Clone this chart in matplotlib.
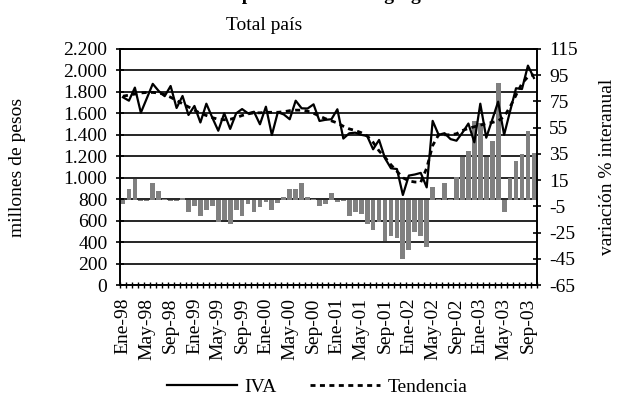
import numpy as np
import matplotlib
matplotlib.use("Agg")
import matplotlib.pyplot as plt
from matplotlib.lines import Line2D

plt.rcParams['font.family'] = ['Liberation Serif', 'DejaVu Serif']
plt.rcParams['axes.unicode_minus'] = False

# meses Ene-98 .. Oct-03
meses = ['Ene', 'Feb', 'Mar', 'Abr', 'May', 'Jun',
         'Jul', 'Ago', 'Sep', 'Oct', 'Nov', 'Dic']
anios = ['98', '99', '00', '01', '02', '03']

# recaudación IVA, millones de pesos
iva = [1750, 1718, 1840, 1606, 1740, 1875, 1808, 1760, 1855, 1650, 1762, 1585,
       1669, 1515, 1690, 1560, 1438, 1600, 1455, 1600, 1640, 1600, 1615, 1498,
       1662, 1398, 1610, 1590, 1545, 1718, 1647, 1645, 1684, 1529, 1540, 1545,
       1638, 1365, 1414, 1420, 1400, 1389, 1265, 1352, 1181, 1088, 1081, 839,
       1020, 1030, 1045, 910, 1530, 1400, 1415, 1360, 1345, 1420, 1505, 1330,
       1690, 1373, 1540, 1709, 1400, 1620, 1834, 1827, 2045, 1930]

tendencia = [1760, 1770, 1780, 1790, 1795, 1795, 1790, 1775, 1750, 1720, 1690, 1660,
             1630, 1600, 1580, 1560, 1545, 1540, 1545, 1560, 1580, 1595, 1605, 1605,
             1610, 1610, 1610, 1615, 1625, 1630, 1630, 1620, 1600, 1575, 1550, 1530,
             1510, 1480, 1455, 1440, 1420, 1390, 1330, 1250, 1190, 1120, 1060, 1000,
             970, 960, 958, 1090, 1300, 1400, 1400, 1400, 1410, 1440, 1460, 1475,
             1490, 1505, 1515, 1530, 1570, 1660, 1770, 1880, 1940, 1960]

# variación % interanual
variacion = [-3, 8, 16, -1, -1, 12.5, 7, 0.5, -1, -1, 1, -9,
             -5, -12.4, -7.8, -5, -16.7, -15.4, -18.5, -7.8, -12.4, -3, -9, -5.7,
             -1.5, -7.8, -2.7, 2, 8, 8, 12.6, 2, 0.5, -5, -3, 5,
             -2, -1, -12.4, -9, -10.6, -18.5, -23, -16.7, -31.2, -27.6, -28.9, -45.4,
             -38.3, -24.4, -27.6, -36.2, 10, 0.5, 12.5, 0.5, 17.6, 32.9, 37.4, 60,
             58.3, 33, 45, 89.3, -9.1, 16.4, 29.8, 34.9, 52.7, 35.4]

n = len(iva)
x = np.arange(n)
etiquetas = [meses[i % 12] + '-' + anios[i // 12] for i in range(n)]

fig = plt.figure(figsize=(6.25, 3.96), dpi=100)
ax = fig.add_axes([0.192, 0.2803, 0.667, 0.596])
ax2 = ax.twinx()
ax3 = ax.twinx()

# barras: variación (eje derecho)
ax2.bar(x, variacion, width=0.8, color='#808080', zorder=2)
ax2.set_ylim(-65, 115)
ax2.set_yticks(np.arange(-65, 116, 20))
ax2.tick_params(axis='y', direction='inout', length=6, width=1.2, pad=6, labelsize=14)

# eje izquierdo con la grilla
ax.set_xlim(-0.5, n - 0.5)
ax.set_ylim(0, 2200)
ax.set_yticks(np.arange(0, 2201, 200))
ax.set_yticklabels([f'{v:,}'.replace(',', '.') for v in range(0, 2201, 200)])
ax.yaxis.grid(True, color='black', lw=1.2)
ax.tick_params(axis='y', direction='inout', length=6, width=1.2, pad=6, labelsize=14)

ax.set_xticks(x[::4])
ax.set_xticklabels(etiquetas[::4], rotation=90)
ax.set_xticks(np.arange(-0.5, n, 1), minor=True)
ax.tick_params(axis='x', which='major', length=0, pad=9, labelsize=14)
ax.tick_params(axis='x', which='minor', direction='inout', length=5, width=1)

# líneas sobre las barras
ax3.plot(x, iva, color='black', lw=1.6, zorder=3)
ax3.plot(x, tendencia, color='black', lw=2, linestyle=(0, (1.8, 1.6)), zorder=3)
ax3.set_ylim(ax.get_ylim())
ax3.set_xlim(ax.get_xlim())
ax3.axis('off')

for a in (ax, ax2):
    for s in a.spines.values():
        s.set_linewidth(1.2)
        s.set_color('black')

# el título principal queda casi fuera del borde superior
fig.text(264 / 625, 1 + 0.5 / 396, 'Recaudación del Impuesto al Valor Agregado',
         ha='center', va='baseline', fontsize=14, fontweight='bold')
fig.text(264 / 625, 1 - 30 / 396, 'Total país', ha='center', va='baseline', fontsize=14)
fig.text(18 / 625, 1 - 167 / 396, 'millones de pesos', rotation=90,
         ha='center', va='center', fontsize=14)
fig.text(608 / 625, 1 - 167 / 396, 'variación % interanual', rotation=90,
         ha='center', va='center', fontsize=14)

handles = [Line2D([], [], color='black', lw=1.6),
           Line2D([], [], color='black', lw=2, linestyle=(0, (1.8, 1.6)))]
fig.legend(handles, ['IVA', 'Tendencia'], loc='center', bbox_to_anchor=(317 / 625, 9 / 396),
           ncol=2, frameon=False, fontsize=14, handlelength=3.6,
           columnspacing=1.7, handletextpad=0.4, borderpad=0)

fig.savefig('out.png', dpi=100)
